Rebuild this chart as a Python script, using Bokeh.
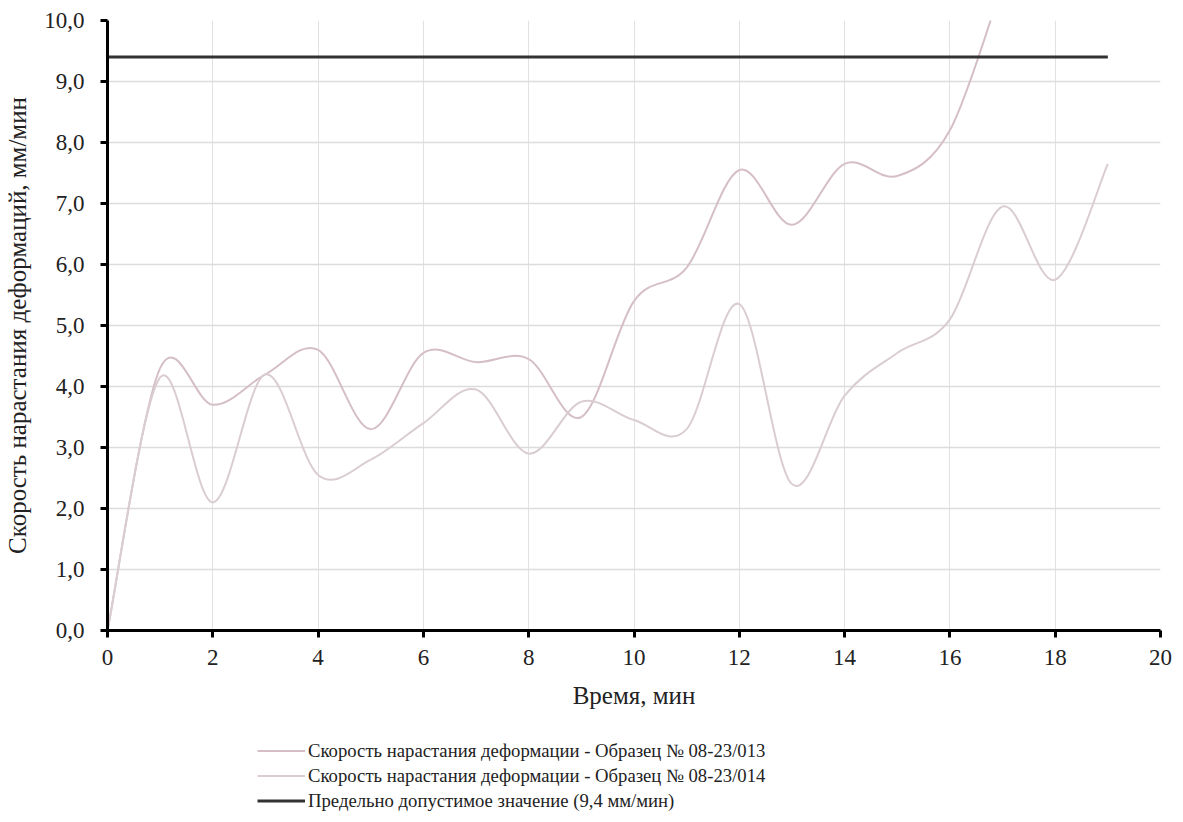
from bokeh.plotting import figure
from bokeh.layouts import column
from bokeh.models import Legend, LegendItem, FixedTicker, ColumnDataSource, Range1d
from bokeh.embed import file_html
from bokeh.resources import INLINE

# ---- data ----
time_013 = list(range(18))
rate_013 = [0.0, 4.3, 3.7, 4.2, 4.6, 3.3, 4.55, 4.4, 4.45, 3.5, 5.4, 5.95,
            7.55, 6.65, 7.65, 7.45, 8.2, 10.6]
time_014 = list(range(20))
rate_014 = [0.0, 4.15, 2.1, 4.2, 2.55, 2.8, 3.4, 3.95, 2.9, 3.75, 3.45, 3.3,
            5.35, 2.4, 3.85, 4.55, 5.1, 6.95, 5.75, 7.65]
limit_time = [0, 19]
limit_value = [9.4, 9.4]

x_ticks = list(range(0, 21, 2))
y_ticks = list(range(0, 11))
y_tick_labels = {t: f"{t},0" for t in y_ticks}

label_013 = "Скорость нарастания деформации - Образец № 08-23/013"
label_014 = "Скорость нарастания деформации - Образец № 08-23/014"
label_limit = "Предельно допустимое значение (9,4 мм/мин)"
x_title = "Время, мин"
y_title = "Скорость нарастания деформаций, мм/мин"

FONT = "Liberation Serif"
COLOR_013 = "#d5bfc5"
COLOR_014 = "#dacdd1"
COLOR_LIMIT = "#333333"


def smooth_source(xs, ys):
    """Catmull-Rom style control points (like a spreadsheet 'smoothed line')."""
    n = len(xs)
    d = dict(x0=[], y0=[], x1=[], y1=[], cx0=[], cy0=[], cx1=[], cy1=[])
    for i in range(n - 1):
        a = i - 1 if i > 0 else i
        b = i + 2 if i + 2 < n else i + 1
        d["x0"].append(xs[i]); d["y0"].append(ys[i])
        d["x1"].append(xs[i + 1]); d["y1"].append(ys[i + 1])
        d["cx0"].append(xs[i] + (xs[i + 1] - xs[a]) / 6)
        d["cy0"].append(ys[i] + (ys[i + 1] - ys[a]) / 6)
        d["cx1"].append(xs[i + 1] - (xs[b] - xs[i]) / 6)
        d["cy1"].append(ys[i + 1] - (ys[b] - ys[i]) / 6)
    return ColumnDataSource(d)


p = figure(width=1175, height=720, output_backend="svg", toolbar_location=None,
           x_range=Range1d(0, 20), y_range=Range1d(0, 10),
           min_border_left=107, min_border_right=15, min_border_top=20,
           min_border_bottom=90)
p.outline_line_color = None
p.background_fill_color = "white"
p.border_fill_color = "white"

# grid
p.xgrid.ticker = FixedTicker(ticks=x_ticks)
p.ygrid.ticker = FixedTicker(ticks=y_ticks)
p.xgrid.grid_line_color = "#e4e0e2"
p.xgrid.grid_line_width = 1
p.ygrid.grid_line_color = "#dcdcdc"
p.ygrid.grid_line_width = 1.5

# axes
for ax in (p.xaxis[0], p.yaxis[0]):
    ax.axis_line_color = "black"
    ax.axis_line_width = 3
    ax.major_tick_line_color = "black"
    ax.major_tick_line_width = 3
    ax.major_tick_out = 7
    ax.major_tick_in = 0
    ax.minor_tick_line_color = None
    ax.major_label_text_font = FONT
    ax.major_label_text_font_size = "23px"
    ax.major_label_text_color = "#222222"
    ax.axis_label_text_font = FONT
    ax.axis_label_text_font_size = "25px"
    ax.axis_label_text_font_style = "normal"
    ax.axis_label_text_color = "#222222"

p.xaxis.ticker = FixedTicker(ticks=x_ticks)
p.yaxis.ticker = FixedTicker(ticks=y_ticks)
p.yaxis.major_label_overrides = y_tick_labels
p.xaxis.axis_label = x_title
p.yaxis.axis_label = y_title
p.xaxis.major_label_standoff = 12
p.yaxis.major_label_standoff = 16
p.xaxis.axis_label_standoff = 14
p.yaxis.axis_label_standoff = 10

# series
p.bezier(x0="x0", y0="y0", x1="x1", y1="y1", cx0="cx0", cy0="cy0",
         cx1="cx1", cy1="cy1", source=smooth_source(time_013, rate_013),
         line_color=COLOR_013, line_width=2)
p.bezier(x0="x0", y0="y0", x1="x1", y1="y1", cx0="cx0", cy0="cy0",
         cx1="cx1", cy1="cy1", source=smooth_source(time_014, rate_014),
         line_color=COLOR_014, line_width=2)
p.line(limit_time, limit_value, line_color=COLOR_LIMIT, line_width=3)

# legend strip below the chart (its ranges keep the key lines out of view)
lg = figure(width=1175, height=94, output_backend="svg", toolbar_location=None,
            x_range=Range1d(100, 101), y_range=Range1d(100, 101),
            min_border_left=0, min_border_right=0, min_border_top=0,
            min_border_bottom=0)
lg.axis.visible = False
lg.grid.visible = False
lg.outline_line_color = None
lg.background_fill_color = "white"
lg.border_fill_color = "white"
k1 = lg.line(time_013, rate_013, line_color=COLOR_013, line_width=2)
k2 = lg.line(time_014, rate_014, line_color=COLOR_014, line_width=2)
k3 = lg.line(limit_time, limit_value, line_color=COLOR_LIMIT, line_width=3)

legend = Legend(items=[LegendItem(label=label_013, renderers=[k1]),
                       LegendItem(label=label_014, renderers=[k2]),
                       LegendItem(label=label_limit, renderers=[k3])],
                location=(150, 1), orientation="vertical",
                label_text_font=FONT, label_text_font_size="18.7px",
                label_text_color="#222222",
                glyph_width=48, glyph_height=25, label_height=25,
                label_standoff=3, spacing=0, padding=0, margin=0,
                border_line_color=None, background_fill_alpha=0)
lg.add_layout(legend, "center")

layout = column(p, lg, spacing=0)
open("out.html", "w").write(file_html(layout, INLINE))
